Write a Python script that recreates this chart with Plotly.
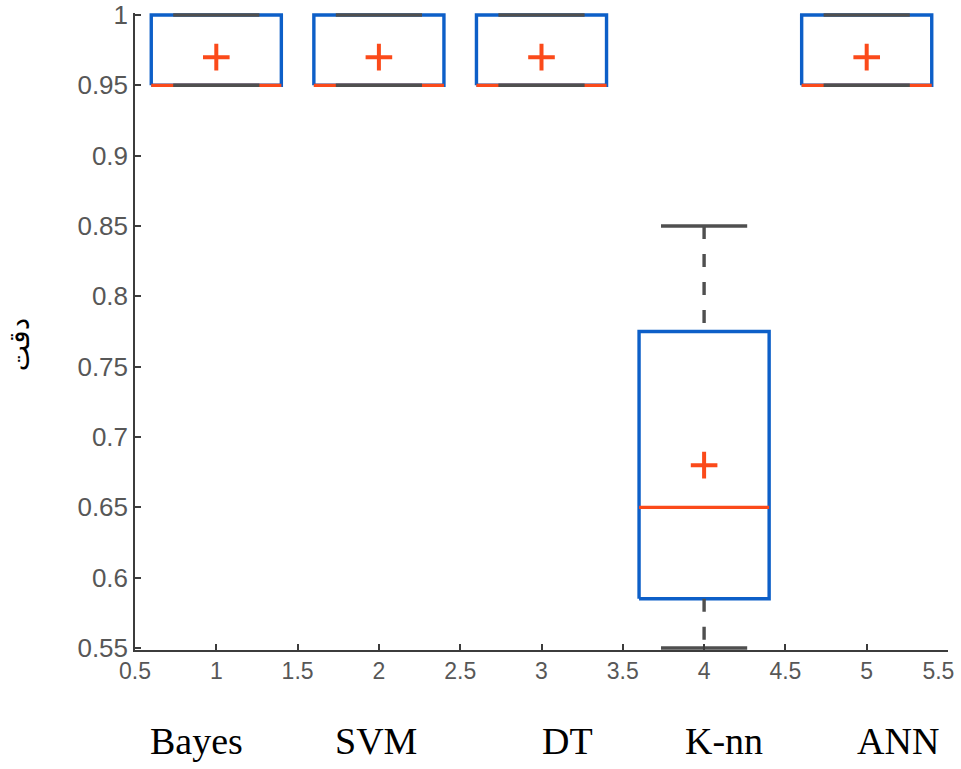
import plotly.graph_objects as go

# ---- data ----
categories = ["Bayes", "SVM", "DT", "K-nn", "ANN"]
positions = [1, 2, 3, 4, 5]
q1 = [0.95, 0.95, 0.95, 0.585, 0.95]
median = [0.95, 0.95, 0.95, 0.65, 0.95]
q3 = [1.0, 1.0, 1.0, 0.775, 1.0]
whisker_low = [0.95, 0.95, 0.95, 0.55, 0.95]
whisker_high = [1.0, 1.0, 1.0, 0.85, 1.0]
means = [0.97, 0.97, 0.97, 0.68, 0.97]

xtick_vals = [0.5, 1, 1.5, 2, 2.5, 3, 3.5, 4, 4.5, 5, 5.5]
xtick_text = ["0.5", "1", "1.5", "2", "2.5", "3", "3.5", "4", "4.5", "5",
              "5.5\u00a0\u00a0\u00a0"]
ytick_vals = [0.55, 0.6, 0.65, 0.7, 0.75, 0.8, 0.85, 0.9, 0.95, 1.0]
ytick_text = ["0.55", "0.6", "0.65", "0.7", "0.75", "0.8", "0.85", "0.9", "0.95", "1"]

label_x = [0.88, 1.98, 3.16, 4.12, 5.19]  # label placement (style)
y_title = "دقت"

# ---- style ----
BLUE = "#0d5fc8"
ORANGE = "#fb4a1a"
GRAY = "#4f4f4f"
BOX_HALF = 0.4
CAP_HALF = 0.265
Y_RANGE = [0.5486, 1.0014]

fig = go.Figure()

for i, p in enumerate(positions):
    # box
    fig.add_trace(go.Scatter(
        x=[p - BOX_HALF, p + BOX_HALF, p + BOX_HALF, p - BOX_HALF, p - BOX_HALF],
        y=[q1[i], q1[i], q3[i], q3[i], q1[i]],
        mode="lines", line=dict(color=BLUE, width=3.4),
        cliponaxis=False, hoverinfo="skip", showlegend=False))
    # median
    fig.add_trace(go.Scatter(
        x=[p - BOX_HALF, p + BOX_HALF], y=[median[i], median[i]],
        mode="lines", line=dict(color=ORANGE, width=3.2),
        cliponaxis=False, hoverinfo="skip", showlegend=False))
    # whiskers (dashed)
    if whisker_high[i] > q3[i]:
        fig.add_trace(go.Scatter(
            x=[p, p], y=[whisker_high[i], q3[i]], mode="lines",
            line=dict(color=GRAY, width=3.4, dash="13px,15px"),
            cliponaxis=False, hoverinfo="skip", showlegend=False))
    if whisker_low[i] < q1[i]:
        fig.add_trace(go.Scatter(
            x=[p, p], y=[q1[i], whisker_low[i]], mode="lines",
            line=dict(color=GRAY, width=3.4, dash="13px,15px"),
            cliponaxis=False, hoverinfo="skip", showlegend=False))
    # caps
    for wv in (whisker_low[i], whisker_high[i]):
        fig.add_trace(go.Scatter(
            x=[p - CAP_HALF, p + CAP_HALF], y=[wv, wv], mode="lines",
            line=dict(color=GRAY, width=3.6),
            cliponaxis=False, hoverinfo="skip", showlegend=False))

# means
fig.add_trace(go.Scatter(
    x=positions, y=means, mode="markers",
    marker=dict(symbol="cross-thin", size=19, line=dict(color=ORANGE, width=4)),
    cliponaxis=False, hoverinfo="skip", showlegend=False))

ytickfont = dict(family="Liberation Sans Narrow, Arial Narrow, Liberation Sans, Arial",
                 size=26, color="#575757")
xtickfont = dict(family="Liberation Sans Narrow, Arial Narrow, Liberation Sans, Arial",
                 size=23, color="#575757")

axis_common = dict(showgrid=False, zeroline=False, showline=True, linecolor="#3c3c3c",
                   linewidth=1.5, ticks="inside", ticklen=6, tickcolor="#3c3c3c",
                   tickwidth=1.5, automargin=False, ticklabeloverflow="allow")

fig.update_layout(
    width=961, height=769,
    margin=dict(l=135, r=13, t=13, b=119),
    paper_bgcolor="white", plot_bgcolor="white",
    xaxis=dict(range=[0.5, 5.5], tickvals=xtick_vals, ticktext=xtick_text,
               tickfont=xtickfont, **axis_common),
    yaxis=dict(range=Y_RANGE, tickvals=ytick_vals, ticktext=ytick_text,
               tickfont=ytickfont, **axis_common),
)

annotations = []
for lx, name in zip(label_x, categories):
    annotations.append(dict(
        x=lx, xref="x", y=-0.143, yref="paper", text=name, showarrow=False,
        xanchor="center", yanchor="middle",
        font=dict(family="Liberation Serif, Times New Roman, serif", size=38, color="black")))
annotations.append(dict(
    x=-0.141, xref="paper", y=0.479, yref="paper", text=y_title, showarrow=False,
    textangle=-90, xanchor="center", yanchor="middle",
    font=dict(family="DejaVu Sans, Noto Sans, serif", size=28, color="black")))
fig.update_layout(annotations=annotations)

fig.write_html("out.html")
